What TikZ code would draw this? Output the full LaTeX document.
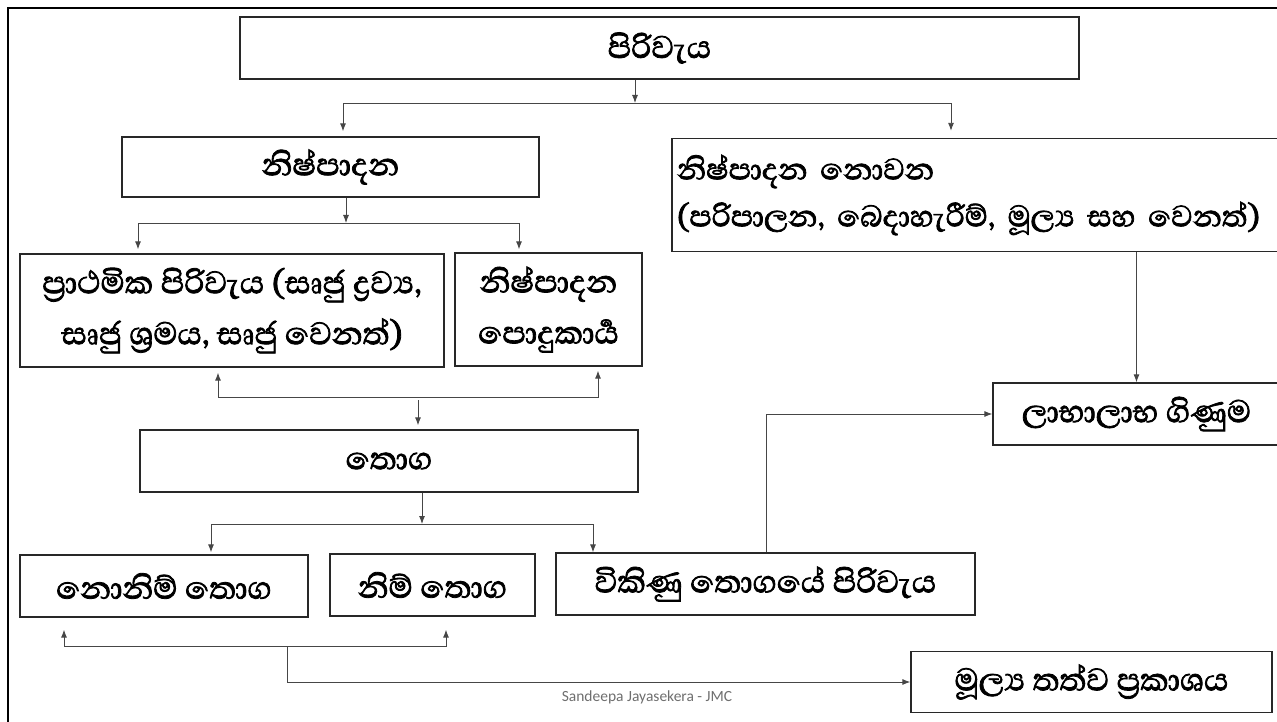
\documentclass[tikz,border=0pt]{standalone}
\usepackage{fontspec}
\usetikzlibrary{arrows.meta}
\newfontfamily\sinfont[Script=Sinhala,FakeBold=2]{Abhaya Libre}
\newfontfamily\footfont{Carlito}
\definecolor{framegray}{RGB}{40,40,40}
\definecolor{linegray}{RGB}{70,70,70}
\definecolor{notegray}{RGB}{110,110,110}

\begin{document}
\begin{tikzpicture}[x=1pt,y=-1pt,
    box/.style={draw=framegray,line width=1.3pt,inner sep=0pt,align=center,
      font=\sinfont\fontsize{40}{51}\selectfont},
    link/.style={draw=linegray,line width=0.9pt},
    arr/.style={link,-{Latex[length=8pt,width=6pt]}},
    arrs/.style={link,{Latex[length=8pt,width=6pt]}-{Latex[length=8pt,width=6pt]}}]
        \useasboundingbox (0,0) rectangle (1277,722);
        % frame
        \draw[line width=2.5pt] (8,722) -- (8,8) -- (1277,8);
        % boxes
        \node[box,minimum width=839,minimum height=62] (cost) at (659.5,48) {පිරිවැය};
        \node[box,minimum width=417,minimum height=60] (prod) at (330.5,167) {නිෂ්පාදන};
        \node[box,inner xsep=5pt,text width=603,align=left,minimum height=113,
          font=\sinfont\fontsize{38}{47}\selectfont] (nonprod) at (978.5,195)
          {නිෂ්පාදන නොවන\\(පරිපාලන, බෙදාහැරීම්, මූල්^^^^200dය සහ වෙනත්)};
        \node[box,minimum width=424,minimum height=113] (prime) at (232,310.5)
          {ප්^^^^200dරාථමික පිරිවැය (සෘජු ද්^^^^200dරව්^^^^200dය,\\සෘජු ශ්^^^^200dරමය, සෘජු වෙනත්)};
        \node[box,minimum width=187,minimum height=113] (ovh) at (548.5,309.5)
          {නිෂ්පාදන\\පොදුකාර්^^^^200dය};
        \node[box,minimum width=498,minimum height=62] (stock) at (389,461) {තොග};
        \node[box,minimum width=288,minimum height=62] (wip) at (164,586) {නොනිම් තොග};
        \node[box,minimum width=205,minimum height=62] (fin) at (432.5,585) {නිම් තොග};
        \node[box,minimum width=419,minimum height=62] (cogs) at (765.5,584) {විකිණු තොගයේ පිරිවැය};
        \node[box,minimum width=287,minimum height=62] (pl) at (1136.5,414) {ලාභාලාභ ගිණුම};
        \node[box,minimum width=361,minimum height=61] (bs) at (1091.5,682) {මූල්^^^^200dය තත්ව ප්^^^^200dරකාශය};
        % footer
        \node[font=\footfont\fontsize{15.5}{18}\selectfont,text=notegray] (note) at (647,697) {Sandeepa Jayasekera - JMC};
        % cost splits into two
        \coordinate (c1) at (635,103);
        \coordinate (c1l) at (343,103);
        \coordinate (c1r) at (951,103);
        \draw[arr] (cost.south -| c1) -- (c1);
        \draw[arrs,shorten <=5pt,shorten >=7pt] (c1l |- prod.north) -- (c1l) -- (c1r) -- (c1r |- nonprod.north);
        % production splits into two
        \coordinate (c2) at (346,223);
        \coordinate (c2l) at (138,223);
        \coordinate (c2r) at (519,223);
        \draw[arr] (prod.south -| c2) -- (c2);
        \draw[arrs,shorten <=4pt,shorten >=3pt] (c2l |- prime.north) -- (c2l) -- (c2r) -- (c2r |- ovh.north);
        % both go to stock
        \coordinate (c3) at (418,400);
        \coordinate (c3l) at (218,397);
        \coordinate (c3r) at (598,397);
        \draw[arrs,shorten <=5pt,shorten >=4pt] (c3l |- prime.south) -- (c3l) -- (c3r) -- (c3r |- ovh.south);
        \draw[arr,shorten >=4pt] (c3) -- (c3 |- stock.north);
        % stock splits
        \coordinate (c4) at (422,524);
        \coordinate (c4l) at (211,524);
        \coordinate (c4r) at (593,524);
        \draw[arr] (stock.south -| c4) -- (c4);
        \draw[arrs,shorten <=2pt] (c4l |- wip.north) -- (c4l) -- (c4r) -- (c4r |- cogs.north);
        % closing stock to balance sheet
        \coordinate (c5) at (287,646);
        \coordinate (c5l) at (64,646);
        \coordinate (c5r) at (446,646);
        \draw[arrs,shorten <=12pt,shorten >=13pt] (c5l |- wip.south) -- (c5l) -- (c5r) -- (c5r |- fin.south);
        \draw[arr] (c5) |- (bs.west);
        % to income statement
        \coordinate (c6) at (766,552);
        \draw[arr] (c6 |- cogs.north) |- (pl.west);
        \draw[arr] (pl.north |- nonprod.south) -- (pl.north);
\end{tikzpicture}
\end{document}
